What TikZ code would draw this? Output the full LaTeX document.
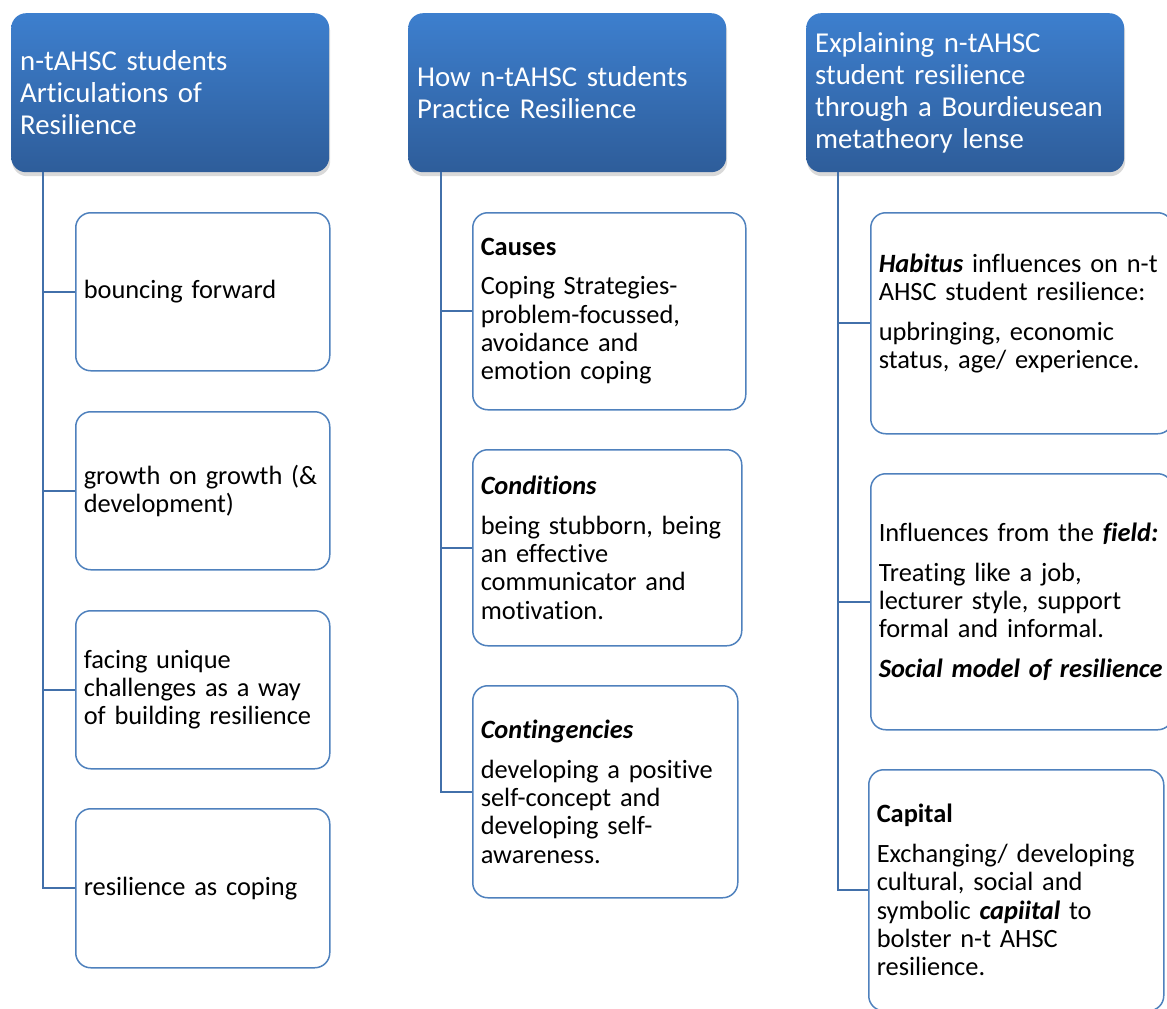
\documentclass[tikz,border=0pt]{standalone}
\usepackage{fontspec}
\setmainfont{Carlito}[Ligatures=NoCommon]
\usetikzlibrary{shadows}
\definecolor{headtop}{HTML}{3D7FCE}
\definecolor{headbot}{HTML}{2E5D9A}
\definecolor{itemline}{HTML}{4F81BD}
\definecolor{trunkcol}{HTML}{4270AA}
\newcommand{\headfont}{\fontsize{28.8}{32}\selectfont}
\newcommand{\itemfont}{\fontsize{26.4}{28.4}\selectfont}
\newcommand{\bi}[1]{\textbf{\textit{#1}}}
\tikzset{
  headbox/.style={anchor=north west, rounded corners=15pt, top color=headtop,
    bottom color=headbot, text=white, font=\headfont, align=left, inner sep=9pt,
    text width=300pt, minimum height=159pt,
    drop shadow={shadow xshift=1pt, shadow yshift=-4pt, opacity=0.15, fill=black}},
  itembox/.style={anchor=north west, rounded corners=15pt, draw=itemline,
    line width=1.5pt, fill=white, font=\itemfont, align=left, inner xsep=8pt, inner ysep=6pt},
  branch/.style={draw=trunkcol, line width=2pt}
}
\begin{document}
\begin{tikzpicture}[x=1pt, y=-1pt]
\useasboundingbox (0,0) rectangle (1167,1009);
% column headers
\node[headbox] (h1) at (11,13) {n-tAHSC students\\Articulations of\\Resilience};
\node[headbox] (h2) at (408,13) {How n-tAHSC students\\Practice Resilience};
\node[headbox] (h3) at (806,13) {Explaining n-tAHSC\\student resilience\\through a Bourdieusean\\metatheory lense};
% articulations
\node[itembox, text width=238pt, minimum height=158pt] (a1) at (75,212) {bouncing forward};
\node[itembox, text width=238pt, minimum height=158pt] (a2) at (75,411) {growth on growth (\&\\development)};
\node[itembox, text width=238pt, minimum height=158pt] (a3) at (75,610) {facing unique\\challenges as a way\\of building resilience};
\node[itembox, text width=238pt, minimum height=159pt] (a4) at (75,808) {resilience as coping};
% practice
\node[itembox, text width=257pt, minimum height=197pt] (b1) at (472,212) {\textbf{Causes}\\[11pt]Coping Strategies-\\problem-focussed,\\avoidance and\\emotion coping};
\node[itembox, text width=253pt, minimum height=196pt] (b2) at (472,449) {\bi{Conditions}\\[11pt]being stubborn, being\\an effective\\communicator and\\motivation.};
\node[itembox, text width=249pt, minimum height=212pt] (b3) at (472,685) {\bi{Contingencies}\\[11pt]developing a positive\\self-concept and\\developing self-\\awareness.};
% bourdieusean lense
\node[itembox, text width=286pt, minimum height=221pt] (c1) at (870,212) {\bi{Habitus} influences on n-t\\AHSC student resilience:\\[11pt]upbringing, economic\\status, age/ experience.\\[-4pt]\mbox{}};
\node[itembox, text width=286pt, minimum height=256pt] (c2) at (870,473) {Influences from the \bi{field:}\\[11pt]Treating like a job,\\lecturer style, support\\formal and informal.\\[11pt]\bi{Social model of resilience}};
\node[itembox, text width=279pt, minimum height=241pt] (c3) at (868,769) {\textbf{Capital}\\[11pt]Exchanging/ developing\\cultural, social and\\symbolic \bi{capiital} to\\bolster n-t AHSC\\resilience.};
% connectors
\foreach \k in {a1,a2,a3,a4}
  \draw[branch] ([xshift=32pt]h1.south west) |- (\k.west);
\foreach \k in {b1,b2,b3}
  \draw[branch] ([xshift=33pt]h2.south west) |- (\k.west);
\foreach \k in {c1,c2,c3}
  \draw[branch] ([xshift=32pt]h3.south west) |- (\k.west);
\end{tikzpicture}
\end{document}
